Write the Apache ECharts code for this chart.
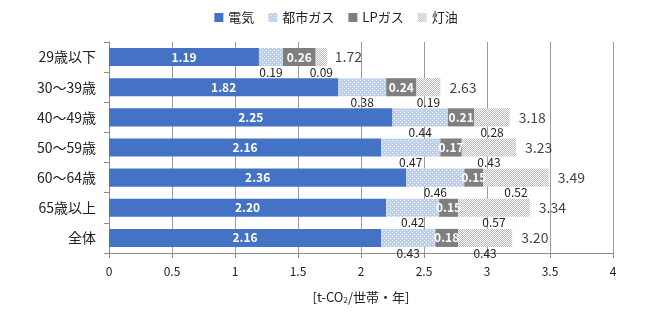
<!DOCTYPE html>
<html><head><meta charset="utf-8">
<script src="https://cdn.jsdelivr.net/npm/echarts@6/dist/echarts.min.js"></script>
<style>html,body{margin:0;padding:0;background:#fff}#c{width:672px;height:325px}</style>
</head><body><div id="c"></div>
<script>
const categories = ['29歳以下','30～39歳','40～49歳','50～59歳','60～64歳','65歳以上','全体'];
const denki = [1.19, 1.82, 2.25, 2.16, 2.36, 2.20, 2.16];
const toshiGas = [0.19, 0.38, 0.44, 0.47, 0.46, 0.42, 0.43];
const lpGas = [0.26, 0.24, 0.21, 0.17, 0.15, 0.15, 0.18];
const touyu = [0.09, 0.19, 0.28, 0.43, 0.52, 0.57, 0.43];
const totals = [1.72, 2.63, 3.18, 3.23, 3.49, 3.34, 3.20];
const seriesNames = ['電気','都市ガス','LPガス','灯油'];
const xTicks = {min: 0, max: 4, interval: 0.5};

function pattern(bg, dots, size) {
  const c = document.createElement('canvas');
  c.width = size; c.height = size;
  const g = c.getContext('2d');
  g.fillStyle = bg; g.fillRect(0, 0, size, size);
  g.fillStyle = '#ffffff';
  dots.forEach(d => g.fillRect(d[0], d[1], 1, 1));
  return c;
}
const patToshi = pattern('#bdd1ee', [[0,0],[2,2]], 4);
const patTouyu = pattern('#b9b9b9', [[0,0],[1,1]], 2);

const FONT = '"Noto Sans CJK JP", "Noto Sans", sans-serif';
const chart = echarts.init(document.getElementById('c'), null, {renderer: 'canvas'});

function seg(name, data, color, labelCfg) {
  return {
    name: name, type: 'bar', stack: 'total', data: data,
    barCategoryGap: '40%',
    itemStyle: {color: color},
    label: labelCfg,
    emphasis: {disabled: true},
    animation: false
  };
}
const inLabel = {show: true, position: 'inside', color: '#fff', fontSize: 12, fontWeight: 'bold', fontFamily: FONT, formatter: p => p.value.toFixed(2)};
const belowLabel = {show: true, position: 'bottom', distance: 0, color: '#222', fontSize: 12, fontFamily: FONT, formatter: p => p.value.toFixed(2)};

chart.setOption({
  animation: false,
  textStyle: {fontFamily: FONT},
  legend: {
    top: 6, left: 'center', itemWidth: 9, itemHeight: 9, itemGap: 14,
    icon: 'rect',
    textStyle: {fontSize: 13, color: '#222', fontFamily: FONT},
    data: seriesNames
  },
  grid: {left: 109, right: 59, top: 42, bottom: 72, containLabel: false},
  xAxis: {
    type: 'value', min: xTicks.min, max: xTicks.max, interval: xTicks.interval,
    axisLine: {show: true, lineStyle: {color: '#8c8c8c'}},
    axisTick: {show: true, length: 5, lineStyle: {color: '#8c8c8c'}},
    splitLine: {show: true, lineStyle: {color: '#9a9a9a', width: 1}},
    axisLabel: {fontSize: 12, color: '#222', margin: 12, fontFamily: FONT},
    name: '{a|[t-CO}{s|2}{a|/世帯・年]}',
    nameLocation: 'middle', nameGap: 37,
    nameTextStyle: {rich: {
      a: {fontSize: 13, color: '#222', fontFamily: FONT},
      s: {fontSize: 8, color: '#222', fontFamily: FONT, verticalAlign: 'bottom', padding: [6,0,0,0]}
    }}
  },
  yAxis: {
    type: 'category', data: categories, inverse: true,
    axisLine: {show: true, lineStyle: {color: '#8c8c8c'}},
    axisTick: {show: true, length: 5, lineStyle: {color: '#8c8c8c'}},
    axisLabel: {fontSize: 14, color: '#222', margin: 13, fontFamily: FONT}
  },
  series: [
    seg('電気', denki, '#4472c4', inLabel),
    seg('都市ガス', toshiGas, {image: patToshi, repeat: 'repeat'}, belowLabel),
    seg('LPガス', lpGas, '#7f7f7f', inLabel),
    seg('灯油', touyu, {image: patTouyu, repeat: 'repeat'}, belowLabel),
    {
      name: 'total', type: 'scatter', symbolSize: 0,
      data: totals.map((t, i) => [t, i]),
      label: {show: true, position: 'right', distance: 9, color: '#111', fontSize: 14, fontFamily: FONT, formatter: p => p.value[0].toFixed(2)},
      silent: true, animation: false, z: 5
    }
  ]
});
</script></body></html>
